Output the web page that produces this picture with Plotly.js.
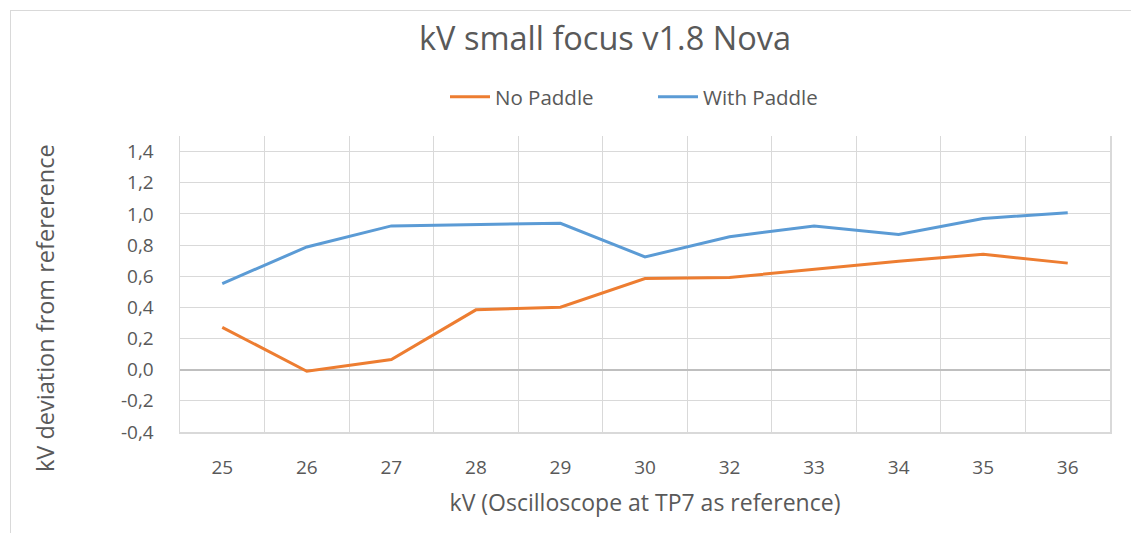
<!DOCTYPE html>
<html>
<head>
<meta charset="utf-8">
<script src="https://cdn.plot.ly/plotly-3.0.1.min.js"></script>
<style>
html,body{margin:0;padding:0;background:#fff;}
#frame{position:absolute;left:10px;top:10px;width:1140px;height:540px;border:1px solid #d9d9d9;}
#chart{position:absolute;left:0;top:0;width:1131px;height:533px;}
</style>
</head>
<body>
<div id="frame"></div>
<div id="chart"></div>
<script>
const categories = ["25","26","27","28","29","30","32","33","34","35","36"];
const noPaddle = [0.272, -0.01, 0.065, 0.384, 0.401, 0.585, 0.592, 0.643, 0.696, 0.741, 0.684];
const withPaddle = [0.553, 0.788, 0.923, 0.932, 0.940, 0.724, 0.853, 0.923, 0.868, 0.971, 1.007];
const yTickVals = [-0.4, -0.2, 0, 0.2, 0.4, 0.6, 0.8, 1.0, 1.2, 1.4];
const yTickText = ["-0,4", "-0,2", "0,0", "0,2", "0,4", "0,6", "0,8", "1,0", "1,2", "1,4"];
const yTitle = "kV deviation from refererence";

const FONT = "'Open Sans', 'Noto Sans', sans-serif";
const TXT = "#595959";
const GRID = "#d9d9d9";

const traces = [
  {x: categories, y: noPaddle, name: "No Paddle", type: "scatter", mode: "lines",
   line: {color: "#ED7D31", width: 3}},
  {x: categories, y: withPaddle, name: "With Paddle", type: "scatter", mode: "lines",
   line: {color: "#5B9BD5", width: 3}}
];

const layout = {
  width: 1131, height: 533,
  paper_bgcolor: "rgba(0,0,0,0)", plot_bgcolor: "rgba(0,0,0,0)",
  margin: {l: 180, r: 21, t: 136, b: 101},
  font: {family: FONT, color: TXT, size: 19},
  title: {text: "kV small focus v1.8 Nova", font: {family: FONT, size: 32.5, color: TXT},
          x: 605/1131, xref: "container", xanchor: "center", y: 1 - 39/533, yref: "container", yanchor: "middle"},
  showlegend: true,
  legend: {orientation: "h", xref: "container", yref: "container", x: 445/1131, xanchor: "left",
           y: 1 - 97/533, yanchor: "middle", font: {family: FONT, size: 20.5, color: TXT},
           entrywidth: 153, itemwidth: 40},
  annotations: [{text: yTitle, textangle: -90, showarrow: false, xref: "paper", yref: "paper",
                 x: (45 - 180) / 930, y: (432 - 308) / 296, xanchor: "center", yanchor: "middle",
                 font: {family: FONT, size: 23.5, color: TXT}}],
  xaxis: {type: "category", tickson: "boundaries", showgrid: true, gridcolor: GRID, gridwidth: 1,
          ticks: "", showline: true, linecolor: GRID, linewidth: 1.5,
          tickfont: {family: FONT, size: 19, color: TXT}, ticklabelstandoff: 18,
          title: {text: "kV (Oscilloscope at TP7 as reference)", font: {family: FONT, size: 23, color: TXT}, standoff: 15},
          range: [-0.5, 10.5], fixedrange: true},
  yaxis: {range: [-0.4, 1.5], tickvals: yTickVals, ticktext: yTickText, showgrid: true,
          gridcolor: GRID, gridwidth: 1, zeroline: true, zerolinecolor: "#bfbfbf", zerolinewidth: 2,
          showline: true, linecolor: GRID, linewidth: 1.5, mirror: true, ticks: "",
          tickfont: {family: FONT, size: 19, color: TXT}, ticklabelstandoff: 21,
          fixedrange: true}
};

Plotly.newPlot("chart", traces, layout, {displayModeBar: false, staticPlot: true});
</script>
</body>
</html>
